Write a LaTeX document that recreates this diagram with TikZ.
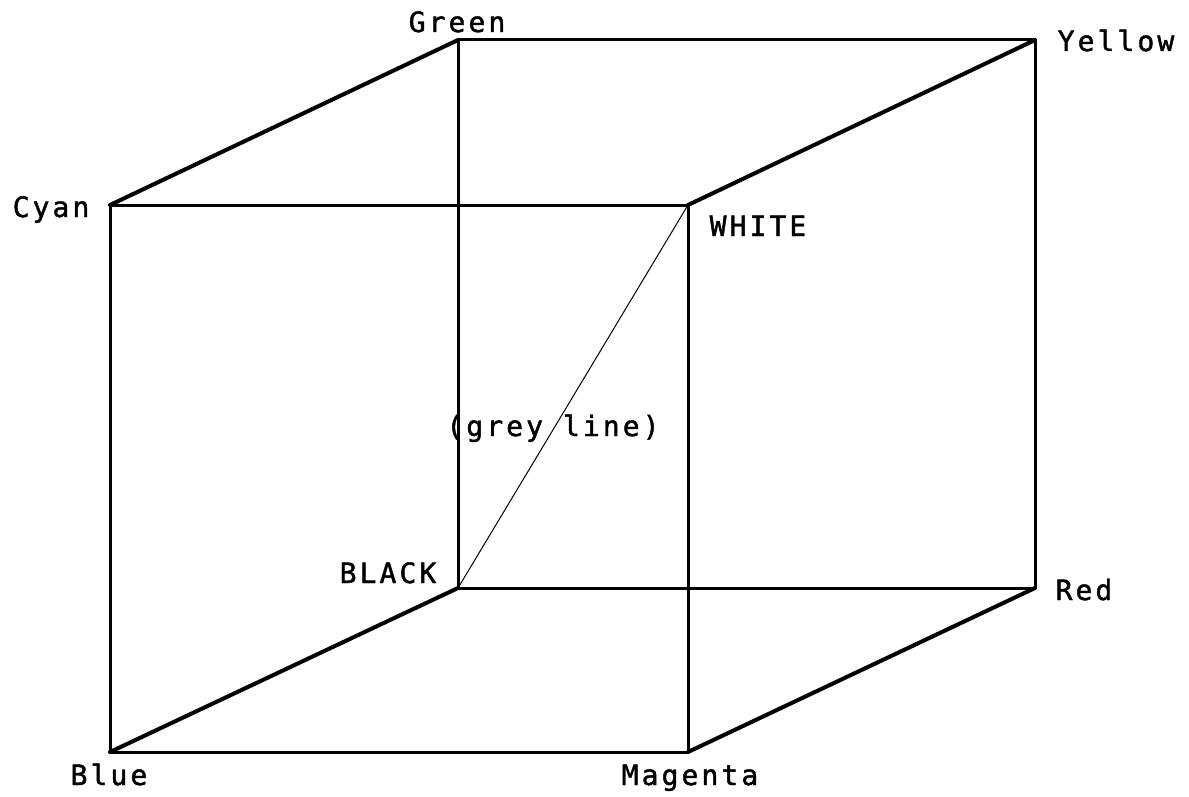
\documentclass[tikz,border=0pt]{standalone}
\usepackage{fontspec}
\newfontfamily\plotfont[LetterSpace=11,FakeBold=1.5]{DejaVu Sans Mono}
\begin{document}
\begin{tikzpicture}[x=1pt,y=-1pt,
  edge/.style={line width=3pt,line cap=round,line join=round},
  slant/.style={line width=4pt,line cap=round,line join=round},
  greyline/.style={line width=1pt},
  lbl/.style={font=\plotfont\fontsize{28}{30}\selectfont,inner sep=0pt,anchor=base}]
\useasboundingbox (0,0) rectangle (1189,797);
% vertices
\coordinate (green) at (458,40);
\coordinate (yellow) at (1035,40);
\coordinate (cyan) at (110,205);
\coordinate (white) at (688,205);
\coordinate (black) at (458,588);
\coordinate (red) at (1035,588);
\coordinate (blue) at (110,752);
\coordinate (magenta) at (688,752);
% edges
\draw[edge] (green) -- (yellow);
\draw[edge] (cyan) -- (white);
\draw[edge] (black) -- (red);
\draw[edge] (blue) -- (magenta);
\draw[edge] (green) -- (black);
\draw[edge] (yellow) -- (red);
\draw[edge] (cyan) -- (blue);
\draw[edge] (white) -- (magenta);
\draw[slant] (green) -- (cyan);
\draw[slant] (yellow) -- (white);
\draw[slant] (black) -- (blue);
\draw[slant] (red) -- (magenta);
\draw[greyline] (black) -- (white);
% labels
\node[lbl] (lgreen) at (457,32) {Green};
\node[lbl] (lyellow) at (1116,51) {Yellow};
\node[lbl] (lcyan) at (51,217) {Cyan};
\node[lbl] (lwhite) at (758,236) {WHITE};
\node[lbl] (lgrey) at (553,436) {(grey line)};
\node[lbl] (lblack) at (388,583) {BLACK};
\node[lbl] (lred) at (1084,600) {Red};
\node[lbl] (lblue) at (109,785) {Blue};
\node[lbl] (lmagenta) at (690,785) {Magenta};
\end{tikzpicture}
\end{document}
